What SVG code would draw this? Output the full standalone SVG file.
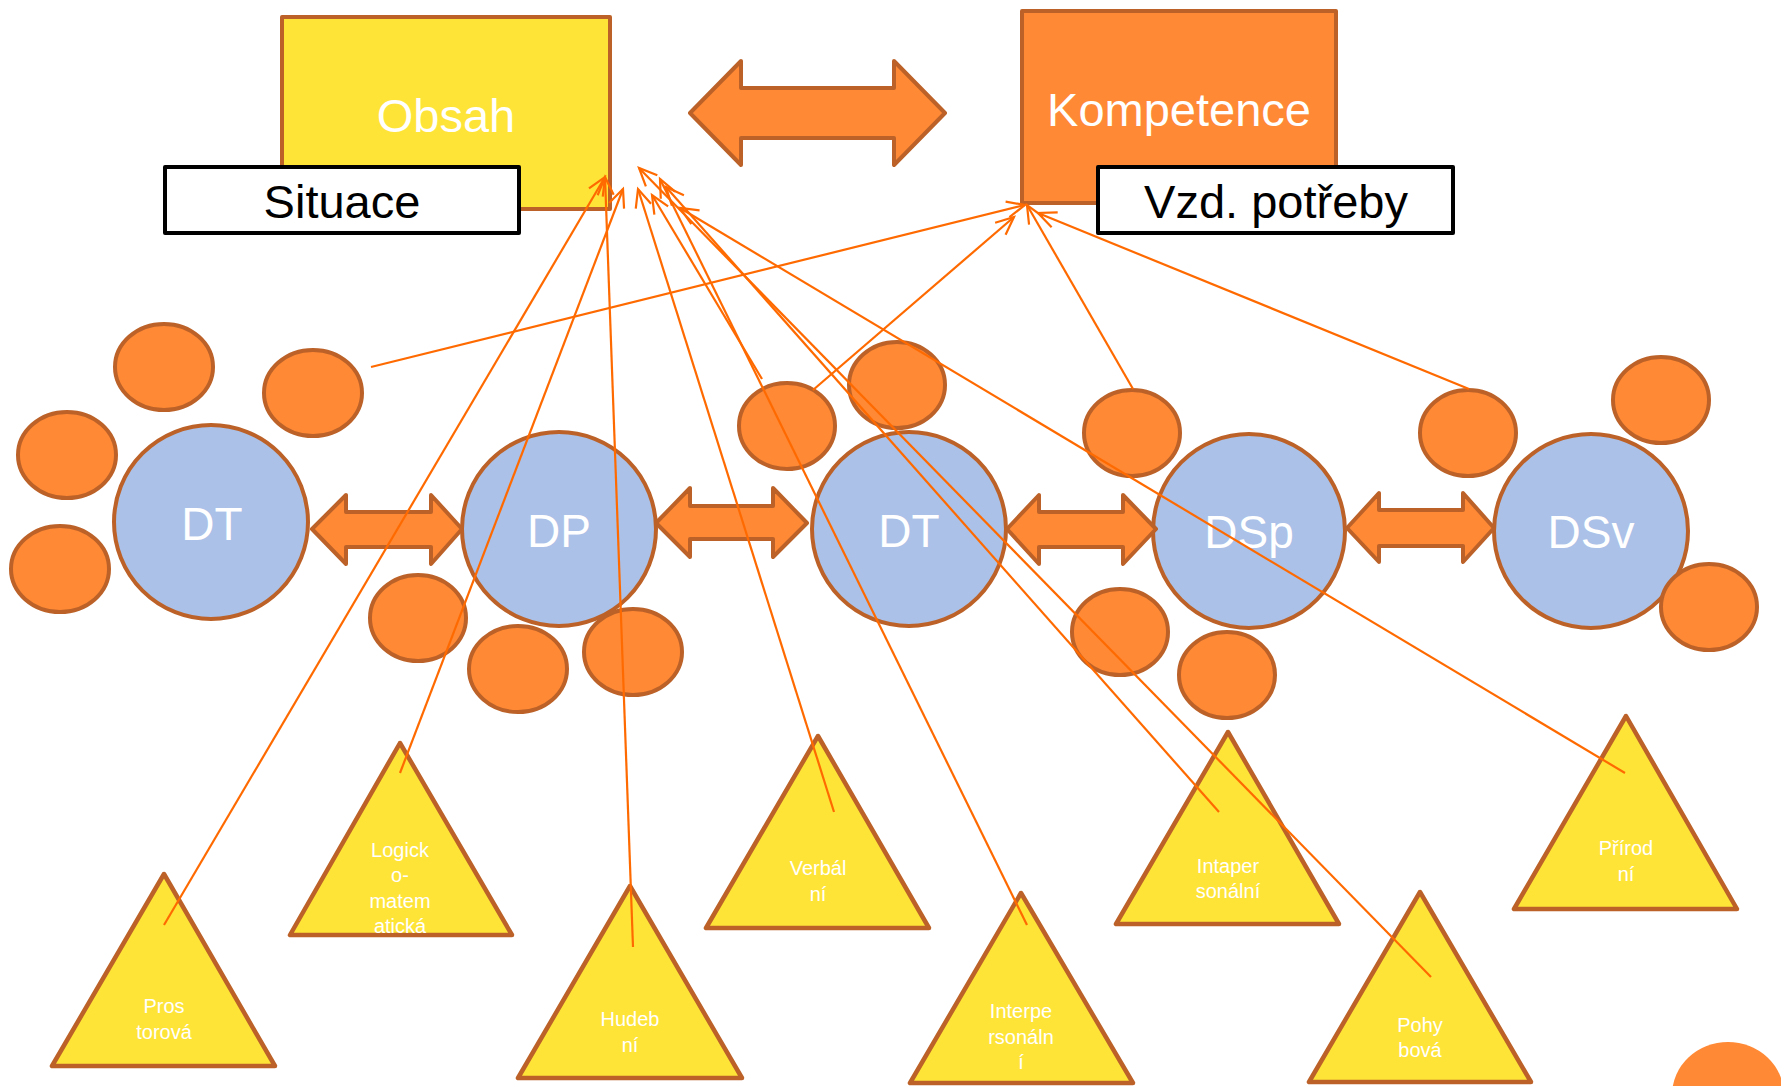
<svg xmlns="http://www.w3.org/2000/svg" width="1781" height="1086" viewBox="0 0 1781 1086">
<defs>
<style>
.box{stroke:#BC6228;stroke-width:4;stroke-linejoin:round}
.yel{fill:#FFE438}
.org{fill:#FF8935}
.lbl{fill:#fff;stroke:#000;stroke-width:4;stroke-linejoin:round}
.blue{fill:#ABC1E7;stroke:#BC6228;stroke-width:4}
.dot{fill:#FF8935;stroke:#BC6228;stroke-width:4}
.tri{fill:#FFE438;stroke:#BC6228;stroke-width:4.5;stroke-linejoin:round}
.dbl{fill:#FF8935;stroke:#BC6228;stroke-width:4;stroke-linejoin:round}
text{font-family:"Liberation Sans",Arial,sans-serif;text-anchor:middle}
.big{font-size:47px}
.w{fill:#fff}
.k{fill:#000}
.t{font-size:20px;fill:#fff}
.c{font-size:46px;fill:#fff}
.conn line{stroke:#FF6A00;stroke-width:2.2;fill:none;marker-end:url(#ah)}
</style>
<marker id="ah" markerUnits="userSpaceOnUse" viewBox="-20 -10 22 20" refX="0" refY="0" markerWidth="22" markerHeight="20" orient="auto" overflow="visible">
<path d="M-18,-8 L0,0 L-18,8" fill="none" stroke="#FF6A00" stroke-width="2.2" stroke-linejoin="miter"/>
</marker>
</defs>
<rect width="1781" height="1086" fill="#fff"/>

<g id="obsah">
<rect class="box yel" x="282" y="17" width="328" height="192"/>
<text class="big w" x="446" y="132">Obsah</text>
</g>
<g id="kompetence">
<rect class="box org" x="1022" y="11" width="314" height="192"/>
<text class="big w" x="1179" y="126">Kompetence</text>
</g>
<g id="situace">
<rect class="lbl" x="165" y="167" width="354" height="66"/>
<text class="big k" x="342" y="218">Situace</text>
</g>
<g id="vzd-potreby">
<rect class="lbl" x="1098" y="167" width="355" height="66"/>
<text class="big k" x="1276" y="218">Vzd. potřeby</text>
</g>
<g id="arrow-top">
<path class="dbl" d="M690,113 L741,61 L741,88 L894,88 L894,61 L945,113 L894,165 L894,138 L741,138 L741,165 Z"/>
</g>

<g id="dt1"><ellipse class="blue" cx="211" cy="522" rx="97" ry="97"/><text class="c" x="212" y="540">DT</text></g>
<g id="dp"><ellipse class="blue" cx="559" cy="529" rx="97" ry="97"/><text class="c" x="559" y="547">DP</text></g>
<g id="dt2"><ellipse class="blue" cx="909" cy="529" rx="97" ry="97"/><text class="c" x="909" y="547">DT</text></g>
<g id="dsp"><ellipse class="blue" cx="1249" cy="531" rx="96" ry="97"/><text class="c" x="1249" y="548">DSp</text></g>
<g id="dsv"><ellipse class="blue" cx="1591" cy="531" rx="97" ry="97"/><text class="c" x="1591" y="548">DSv</text></g>

<g id="arrow-1"><path class="dbl" d="M312,529 L346,495 L346,512 L431,512 L431,495 L462,529 L431,564 L431,547 L346,547 L346,564 Z"/></g>
<g id="arrow-2"><path class="dbl" d="M656,523 L690,488 L690,506 L773,506 L773,488 L807,523 L773,557 L773,539 L690,539 L690,557 Z"/></g>
<g id="arrow-3"><path class="dbl" d="M1007,529 L1039,495 L1039,512 L1123,512 L1123,495 L1156,529 L1123,564 L1123,547 L1039,547 L1039,564 Z"/></g>
<g id="arrow-4"><path class="dbl" d="M1347,528 L1379,493 L1379,510 L1463,510 L1463,493 L1494,528 L1463,562 L1463,546 L1379,546 L1379,562 Z"/></g>

<g id="dots">
<ellipse class="dot" cx="164" cy="367" rx="49" ry="43"/>
<ellipse class="dot" cx="313" cy="393" rx="49" ry="43"/>
<ellipse class="dot" cx="67" cy="455" rx="49" ry="43"/>
<ellipse class="dot" cx="60" cy="569" rx="49" ry="43"/>
<ellipse class="dot" cx="418" cy="618" rx="48" ry="43"/>
<ellipse class="dot" cx="518" cy="669" rx="49" ry="43"/>
<ellipse class="dot" cx="633" cy="652" rx="49" ry="43"/>
<ellipse class="dot" cx="787" cy="426" rx="48" ry="43"/>
<ellipse class="dot" cx="897" cy="385" rx="48" ry="43"/>
<ellipse class="dot" cx="1132" cy="433" rx="48" ry="43"/>
<ellipse class="dot" cx="1468" cy="433" rx="48" ry="43"/>
<ellipse class="dot" cx="1661" cy="400" rx="48" ry="43"/>
<ellipse class="dot" cx="1120" cy="632" rx="48" ry="43"/>
<ellipse class="dot" cx="1227" cy="675" rx="48" ry="43"/>
<ellipse class="dot" cx="1709" cy="607" rx="48" ry="43"/>
<ellipse cx="1728" cy="1095" rx="56" ry="53" fill="#FF8935"/>
</g>

<g id="prostorova"><polygon class="tri" points="164,874 52,1066 275,1066"/><text class="t"><tspan x="164" y="1013">Pros</tspan><tspan x="164" y="1039">torová</tspan></text></g>
<g id="logicko-matematicka"><polygon class="tri" points="400,743 290,935 512,935"/><text class="t"><tspan x="400" y="857">Logick</tspan><tspan x="400" y="882">o-</tspan><tspan x="400" y="908">matem</tspan><tspan x="400" y="933">atická</tspan></text></g>
<g id="hudebni"><polygon class="tri" points="630,886 518,1078 742,1078"/><text class="t"><tspan x="630" y="1026">Hudeb</tspan><tspan x="630" y="1052">ní</tspan></text></g>
<g id="verbalni"><polygon class="tri" points="818,736 706,928 929,928"/><text class="t"><tspan x="818" y="875">Verbál</tspan><tspan x="818" y="901">ní</tspan></text></g>
<g id="interpersonalni"><polygon class="tri" points="1021,893 910,1083 1133,1083"/><text class="t"><tspan x="1021" y="1018">Interpe</tspan><tspan x="1021" y="1044">rsonáln</tspan><tspan x="1021" y="1069">í</tspan></text></g>
<g id="intapersonalni"><polygon class="tri" points="1228,732 1116,924 1339,924"/><text class="t"><tspan x="1228" y="873">Intaper</tspan><tspan x="1228" y="898">sonální</tspan></text></g>
<g id="pohybova"><polygon class="tri" points="1420,892 1309,1082 1531,1082"/><text class="t"><tspan x="1420" y="1032">Pohy</tspan><tspan x="1420" y="1057">bová</tspan></text></g>
<g id="prirodni"><polygon class="tri" points="1626,716 1514,909 1737,909"/><text class="t"><tspan x="1626" y="855">Přírod</tspan><tspan x="1626" y="881">ní</tspan></text></g>

<g id="connectors" class="conn">
<line x1="164" y1="925" x2="605" y2="177"/>
<line x1="633" y1="947" x2="605" y2="177"/>
<line x1="400" y1="773" x2="623" y2="189"/>
<line x1="834" y1="812" x2="638" y2="189"/>
<line x1="1027" y1="925" x2="660" y2="179"/>
<line x1="1219" y1="812" x2="666" y2="187"/>
<line x1="1431" y1="977" x2="639" y2="168"/>
<line x1="1625" y1="773" x2="680" y2="208"/>
<line x1="762" y1="379" x2="652" y2="195"/>
<line x1="371" y1="367" x2="1025" y2="205"/>
<line x1="813" y1="390" x2="1014" y2="217"/>
<line x1="1133" y1="389" x2="1027" y2="205"/>
<line x1="1469" y1="389" x2="1038" y2="213"/>
</g>
</svg>
